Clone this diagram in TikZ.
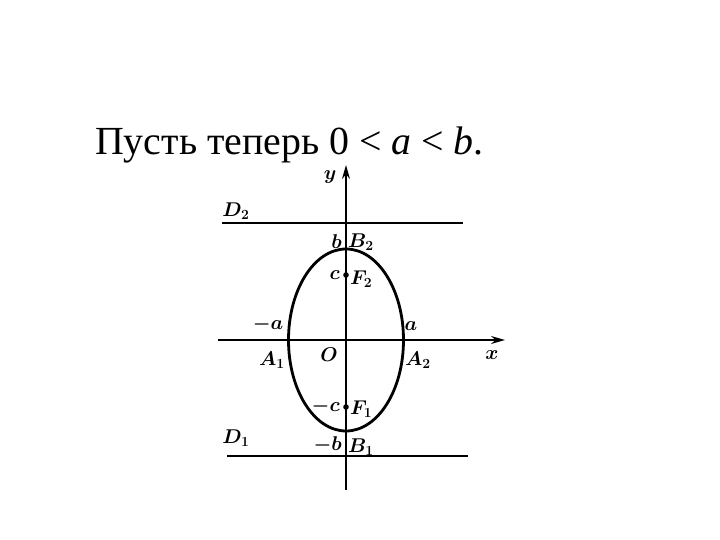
\documentclass[tikz,border=0pt]{standalone}
\usepackage{fix-cm}
\usepackage{fontspec}
\setmainfont{Liberation Serif}[ItalicFont={Liberation Serif Italic}]
\usetikzlibrary{arrows.meta}
\tikzset{
	lbl/.style={font=\fontsize{20}{24}\selectfont\boldmath, inner sep=1bp},
	axis/.style={line width=1.8bp, -{Stealth[length=14bp,width=8bp]}},
	dirline/.style={line width=2.4bp}
}
\begin{document}
\begin{tikzpicture}[x=1bp,y=1bp]
		\useasboundingbox (-346,-200) rectangle (374,340);
		\node[anchor=base west, inner sep=0, font=\fontsize{40}{48}\selectfont] (title) at (-251,185)
			{Пусть теперь 0 < \textit{a} < \textit{b}.};
		\coordinate (O) at (0,0);
		\coordinate (xl) at (-128,0);
		\coordinate (xr) at (159,0);
		\coordinate (yb) at (0,-150);
		\coordinate (yt) at (0,175);
		\coordinate (d2l) at (-124,117);
		\coordinate (d2r) at (117,117);
		\coordinate (d1l) at (-119,-116);
		\coordinate (d1r) at (122,-116);
		\coordinate (F2) at (0,65);
		\coordinate (F1) at (0,-67);
		\draw[axis] (xl) -- (xr);
		\draw[axis] (yb) -- (yt);
		\draw[dirline] (d2l) -- (d2r);
		\draw[dirline] (d1l) -- (d1r);
		\draw[line width=2.8bp] (O) ellipse [x radius=57.5, y radius=91];
		\fill (F2) circle (2.8);
		\fill (F1) circle (2.8);
		\node[lbl] (ly) at (-16,163) {$y$};
		\node[lbl] (lx) at (146,-15) {$x$};
		\node[lbl] (lD2) at (-110,129) {$D_2$};
		\node[lbl] (lD1) at (-110,-98) {$D_1$};
		\node[lbl, anchor=east] (lb) at (-3,98) {$b$};
		\node[lbl, anchor=west] (lB2) at (1,98) {$B_2$};
		\node[lbl, anchor=east] (lc) at (-5,65) {$c$};
		\node[lbl, anchor=west] (lF2) at (3,61) {$F_2$};
		\node[lbl] (lma) at (-78,15) {$-a$};
		\node[lbl] (la) at (65,14) {$a$};
		\node[lbl] (lA1) at (-74,-20) {$A_1$};
		\node[lbl] (lO) at (-17,-15) {$O$};
		\node[lbl] (lA2) at (72,-20) {$A_2$};
		\node[lbl, anchor=east] (lmc) at (-5,-67) {$-c$};
		\node[lbl, anchor=west] (lF1) at (3,-69) {$F_1$};
		\node[lbl, anchor=east] (lmb) at (-3,-105) {$-b$};
		\node[lbl, anchor=west] (lB1) at (1,-107) {$B_1$};
	\end{tikzpicture}
\end{document}
